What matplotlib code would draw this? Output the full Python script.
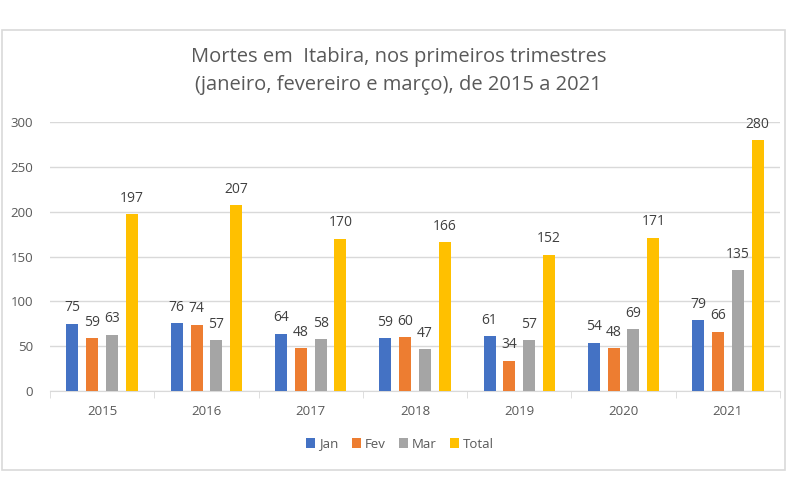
import numpy as np
import matplotlib.pyplot as plt
from matplotlib.patches import Rectangle

# ─── DATA ───────────────────────────────────────────────────────────────────
anos = ['2015', '2016', '2017', '2018', '2019', '2020', '2021']
jan = [75, 76, 64, 59, 61, 54, 79]
fev = [59, 74, 48, 60, 34, 48, 66]
mar = [63, 57, 58, 47, 57, 69, 135]
total = [197, 207, 170, 166, 152, 171, 280]

series = [('Jan', jan, '#4472C4'), ('Fev', fev, '#ED7D31'),
          ('Mar', mar, '#A5A5A5'), ('Total', total, '#FFC000')]

plt.rcParams['font.family'] = ['Open Sans', 'DejaVu Sans']
txt = '#595959'

fig = plt.figure(figsize=(8, 5), dpi=100)
# chart frame
fig.patches.append(Rectangle((2 / 800, 1 - 470 / 500), 783 / 800, 440 / 500,
                             transform=fig.transFigure, fill=False,
                             edgecolor='#D9D9D9', linewidth=1.2))

ax = fig.add_axes([50 / 800, 1 - 391 / 500, 730 / 800, 269 / 500])
x = np.arange(len(anos))
w = 0.115
step = 0.19
for i, (nome, vals, cor) in enumerate(series):
    pos = x + (i - 1.5) * step
    ax.bar(pos, vals, width=w, color=cor, label=nome, zorder=3)
    for px, v in zip(pos, vals):
        ax.annotate(str(v), (px, v), textcoords='offset points', xytext=(0, 6),
                    ha='center', va='bottom', fontsize=10, color='#404040')

ax.set_xlim(-0.5, len(anos) - 0.5)
ax.set_ylim(0, 300)
ax.set_yticks(range(0, 301, 50))
ax.yaxis.grid(True, color='#D9D9D9', linewidth=1, zorder=0)
ax.set_xticks(x)
ax.set_xticklabels(anos)
ax.set_xticks(np.arange(-0.5, len(anos), 1), minor=True)
ax.tick_params(axis='x', which='major', length=0, pad=10, colors=txt, labelsize=9.5)
ax.tick_params(axis='x', which='minor', length=5, color='#D9D9D9')
ax.tick_params(axis='y', length=0, pad=12, colors=txt, labelsize=9.5)
for s in ['top', 'right', 'left']:
    ax.spines[s].set_visible(False)
ax.spines['bottom'].set_color('#D9D9D9')

fig.text(0.498, 1 - 71 / 500, 'Mortes em  Itabira, nos primeiros trimestres\n'
         '(janeiro, fevereiro e março), de 2015 a 2021',
         ha='center', va='center', fontsize=14.5, color=txt, linespacing=1.55)

fig.legend(loc='center', bbox_to_anchor=(0.5, 1 - 444 / 500), ncol=4,
           frameon=False, fontsize=9.5, handlelength=0.7, handleheight=0.7,
           handletextpad=0.3, columnspacing=1.0, labelcolor=txt)

plt.savefig('out.png', dpi=100)
